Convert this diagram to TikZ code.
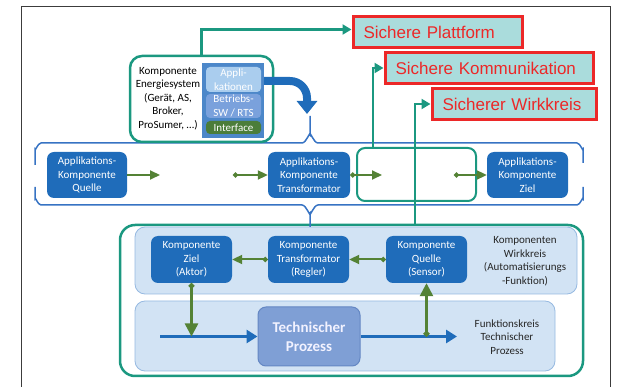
\documentclass[tikz,border=0pt]{standalone}
\usepackage{fontspec}
\setmainfont{Carlito}
\newfontfamily\arialfont{Liberation Sans}
\usetikzlibrary{arrows.meta}

\definecolor{appblue}{RGB}{31,108,186}
\definecolor{arrgreen}{RGB}{84,130,53}
\definecolor{tealc}{RGB}{27,152,128}
\definecolor{paleblue}{RGB}{210,227,244}
\definecolor{paleedge}{RGB}{150,185,225}
\definecolor{procfill}{RGB}{127,159,213}
\definecolor{procedge}{RGB}{100,135,195}
\definecolor{bracecol}{RGB}{55,115,195}
\definecolor{redc}{RGB}{236,40,40}
\definecolor{cyanfill}{RGB}{170,220,220}
\definecolor{stackbg}{RGB}{76,135,201}
\definecolor{applfill}{RGB}{170,205,238}
\definecolor{betrfill}{RGB}{122,161,220}
\definecolor{ifgreen}{RGB}{75,125,58}
\definecolor{framec}{RGB}{60,60,60}

\tikzset{
  txt/.style={font=\fontsize{11}{13.5}\selectfont, align=center, inner sep=0pt},
  appbox/.style={txt, fill=appblue, text=white, rounded corners=7pt,
    minimum height=46pt},
  kbox/.style={appbox, minimum width=81pt, minimum height=47pt},
  lightbox/.style={fill=paleblue, draw=paleedge, line width=0.8pt, rounded corners=10pt},
  tealbox/.style={draw=tealc, line width=2.5pt},
  redbox/.style={draw=redc, line width=3pt, fill=cyanfill, text=redc,
    font=\fontsize{17}{20}\arialfont, align=left, inner xsep=10.5pt, inner ysep=0pt,
    minimum height=31pt},
  stackpart/.style={txt, text=white, rounded corners=4pt, minimum width=55pt},
  garrow/.style={arrgreen, line width=2pt, -{Triangle[length=10pt,width=9pt]}},
  gdot/.style={arrgreen, line width=2pt, {Circle[length=5pt]}-{Triangle[length=10pt,width=9pt]}},
  gdotbig/.style={arrgreen, line width=2.5pt, {Circle[length=5.5pt]}-{Triangle[length=13pt,width=13pt]}},
  tarrow/.style={tealc, line width=2.5pt, -{Triangle[length=9pt,width=10pt]}},
  barrow/.style={appblue, line width=3.5pt, -{Triangle[length=11pt,width=13pt]}},
  bluebig/.style={appblue, line width=8pt, -{Triangle[length=13pt,width=20pt]}},
  bracepath/.style={bracecol, line width=1.5pt},
}

\begin{document}
\begin{tikzpicture}[x=1pt,y=-1pt]
\useasboundingbox (0,0) rectangle (619,387);

% outer frame (open at the bottom)
\draw[framec, line width=1pt] (21,387) -- (21,7) -- (610,7) -- (610,387);

% ---------- lower part: control loop ----------
\node[tealbox, rounded corners=15pt, minimum width=463pt, minimum height=151pt] (bigteal) at (351.5,300.5) {};
\node[lightbox, minimum width=442pt, minimum height=67pt] (wkarea) at (356,260.5) {};
\node[lightbox, minimum width=420pt, minimum height=70pt] (fkarea) at (345,336) {};

\node[txt, text=black!85] (wklbl) at (525,261) {Komponenten\\Wirkkreis\\(Automatisierungs\\-Funktion)};
\node[txt, text=black!85] (fklbl) at (507,337) {Funktionskreis\\Technischer\\Prozess};

\node[kbox] (kziel) at (191.5,259.5) {Komponente\\Ziel\\(Aktor)};
\node[kbox] (ktr) at (308.5,259.5) {Komponente\\Transformator\\(Regler)};
\node[kbox] (ksrc) at (426.5,259.5) {Komponente\\Quelle\\(Sensor)};

\coordinate (pin) at (160,336.5);
\coordinate (pout) at (457,336.5);
\node[fill=procfill, draw=procedge, line width=1pt, rounded corners=8pt,
  minimum width=102pt, minimum height=59pt, align=center, inner sep=0pt,
  text=white!95!blue, font=\fontsize{15}{19}\selectfont\bfseries] (proc) at (309,336.5) {Technischer\\Prozess};
\draw[barrow] (pin) -- (proc.west);
\draw[barrow] (proc.east) -- (pout);

\draw[gdot] (ksrc.west) -- (ktr.east);
\draw[gdot] (ktr.west) -- (kziel.east);
\draw[gdotbig] (kziel.south) -- (kziel.south |- proc.west);
\draw[gdotbig] (ksrc.south |- proc.east) -- (ksrc.south);

% ---------- braces around the application layer ----------
\draw[bracepath] (35,165) -- (35,149) to[out=-90,in=180] (41,143) -- (302,143)
  to[out=0,in=90] (310,135) -- (310,116);
\draw[bracepath] (310,135) to[out=90,in=180] (318,143) -- (577,143)
  to[out=0,in=-90] (583,149) -- (583,163);
\draw[bracepath] (35,187) -- (35,199) to[out=90,in=180] (41,205) -- (302,205)
  to[out=0,in=-90] (310,213) -- (310,227);
\draw[bracepath] (310,213) to[out=-90,in=180] (318,205) -- (577,205)
  to[out=0,in=90] (583,199) -- (583,187);

% ---------- application layer ----------
\node[tealbox, line width=2pt, rounded corners=8pt, minimum width=119pt, minimum height=53pt] (mid) at (416.5,174.5) {};

\node[appbox, minimum width=80pt] (aq) at (87,175) {Applikations-\\Komponente\\Quelle};
\node[appbox, minimum width=82pt] (at) at (309,175) {Applikations-\\Komponente\\Transformator};
\node[appbox, minimum width=81pt] (az) at (527.5,175) {Applikations-\\Komponente\\Ziel};

\coordinate (aqend) at (160,175);
\coordinate (c1) at (233,175);
\coordinate (c2) at (382,175);
\coordinate (c3) at (454,175);
\draw[garrow] (aq.east) -- (aqend);
\draw[gdot] (c1) -- (at.west);
\draw[gdot] (at.east) -- (c2);
\draw[gdot] (c3) -- (az.west);

% ---------- component of the energy system ----------
\node[tealbox, rounded corners=12pt, minimum width=143pt, minimum height=86pt] (esys) at (201.5,99) {};
\node[txt, text=black] (esyslbl) at (168,98.5) {\fontsize{11}{14.5}\selectfont Komponente\\Energiesystem\\(Gerät, AS,\\Broker,\\ProSumer, …)};
\node[fill=stackbg, minimum width=62pt, minimum height=75pt, inner sep=0pt] (stack) at (233,100.5) {};
\node[stackpart, fill=applfill, minimum height=25pt] (appl) at (233.5,79.5) {Appli-\\kationen};
\node[stackpart, fill=betrfill, minimum height=24pt] (betr) at (233.5,106) {Betriebs-\\SW / RTS};
\node[stackpart, fill=ifgreen, minimum height=13pt] (intf) at (233.5,127.5) {Interface};

\draw[bluebig] (stack.east |- 0,81) -- (290,81) to[out=0,in=90] (307,98) -- (307,114);

% ---------- security goals ----------
\node[redbox, minimum width=169pt, text width=148pt] (plat) at (437.5,32.5) {Sichere Plattform};
\node[redbox, minimum width=208pt, text width=187pt] (komm) at (489,68) {Sichere Kommunikation};
\node[redbox, minimum width=164pt, text width=143pt] (wirk) at (514,104) {Sicherer Wirkkreis};

\coordinate (km) at ([xshift=-43.5pt]mid.north);
\coordinate (wk) at (415,225);
\draw[tarrow] (esys.north) |- ([yshift=3pt]plat.west);
\draw[tarrow] (km) |- (komm.west);
\draw[tarrow] (wk) |- (wirk.west);
\end{tikzpicture}
\end{document}
